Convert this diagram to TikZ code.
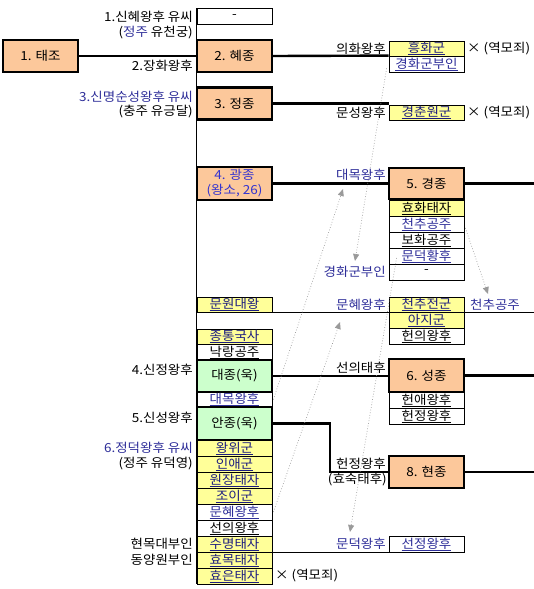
\documentclass[tikz,border=0pt]{standalone}
\usepackage{fontspec}
\setmainfont[FakeStretch=1.08]{Noto Sans CJK KR}
\usetikzlibrary{arrows.meta,calc}
\definecolor{orng}{HTML}{FCC89B}
\definecolor{yel}{HTML}{FFFF99}
\definecolor{grn}{HTML}{CCFFCC}
\definecolor{navyt}{HTML}{1C1C80}
\definecolor{bluet}{HTML}{2E2E99}
\definecolor{kblue}{HTML}{3434D0}
\definecolor{arrg}{HTML}{9A9A9A}
\newcommand{\fsz}{\fontsize{12.5pt}{15pt}\selectfont}
\newcommand{\uln}[1]{\leavevmode\setbox0\hbox{#1}\rlap{\rule[-2.2pt]{\wd0}{0.6pt}}\box0}
\begin{document}
\begin{tikzpicture}[x=1pt,y=-1pt,
  every node/.style={font=\fsz, inner sep=0pt},
  cell/.style={draw, line width=0.8pt, fill=white, minimum width=75pt, minimum height=16pt},
  ycell/.style={cell, fill=yel, text=navyt},
  king/.style={draw, line width=2.4pt, fill=orng, minimum width=75pt, minimum height=32pt},
  gking/.style={king, fill=grn},
  rl/.style={anchor=east},
  ll/.style={anchor=west},
  kline/.style={line width=2.4pt},
  tline/.style={line width=0.9pt},
  vline/.style={line width=1.3pt},
  hint/.style={arrg, dotted, line width=0.7pt, -{Triangle[length=7pt,width=6pt]}},
]
\useasboundingbox (0,0) rectangle (534,589);
\coordinate (edge) at (534,0);

% ---------- main column ----------
\node[cell] (dash) at (234.5,16.5) {-};
\node[king] (hyejong) at (234.5,56) {2. 혜종};
\node[king] (jeongjong) at (234.5,103.5) {3. 정종};
\node[king, text=kblue, align=center, minimum height=33pt] (gwang) at (234.5,183.5) {4. 광종\\(왕소, 26)};
\node[ycell, minimum height=15pt] (munwon) at (234.5,304.5) {\uln{문원대왕}};
\node[ycell, minimum height=15pt] (jongtong) at (234.5,336.5) {\uln{종통국사}};
\node[cell] (nakrang) at (234.5,352) {\uln{낙랑공주}};
\node[gking] (daejong) at (234.5,376) {대종(욱)};
\node[cell, minimum height=15pt, text=bluet] (daemok) at (234.5,399.5) {\uln{대목왕후}};
\node[gking, minimum height=33pt] (anjong) at (234.5,423.5) {안종(욱)};
\node[ycell] (wangwi) at (234.5,448) {\uln{왕위군}};
\node[ycell] (inae) at (234.5,464) {\uln{인애군}};
\node[ycell] (wonjang) at (234.5,480) {\uln{원장태자}};
\node[ycell] (joi) at (234.5,496) {\uln{조이군}};
\node[cell, text=bluet] (munhye) at (234.5,512) {\uln{문혜왕후}};
\node[cell] (seonui) at (234.5,528) {\uln{선의왕후}};
\node[ycell] (suyeong) at (234.5,544) {\uln{수명태자}};
\node[ycell] (hyomok) at (234.5,560) {\uln{효목태자}};
\node[ycell] (hyoeun) at (234.5,576) {\uln{효은태자}};

% ---------- founder ----------
\node[king] (taejo) at (40.5,56) {1. 태조};

% ---------- second column ----------
\node[ycell, minimum height=15pt] (heunghwa) at (426.5,48.5) {\uln{흥화군}};
\node[cell, text=bluet] (gyeonghwa) at (426.5,64) {\uln{경화군부인}};
\node[ycell, minimum height=15pt] (gyeongchun) at (426.5,112.5) {\uln{경춘원군}};
\node[king, minimum height=31pt] (gyeongjong) at (426.5,183.5) {5. 경종};
\node[ycell, text=black] (hyohwa) at (426.5,208) {\uln{효화태자}};
\node[cell, text=bluet] (cheonchu) at (426.5,224) {\uln{천추공주}};
\node[cell] (bohwa) at (426.5,240) {\uln{보화공주}};
\node[cell, text=bluet] (mundeok) at (426.5,256) {\uln{문덕황후}};
\node[cell] (dash2) at (426.5,272) {-};
\node[ycell, minimum height=15pt] (cheonchujeon) at (426.5,304.5) {\uln{천추전군}};
\node[ycell] (aji) at (426.5,320) {\uln{아지군}};
\node[cell] (heonui) at (426.5,336) {\uln{헌의왕후}};
\node[king, minimum height=33pt] (seongjong) at (426.5,375.5) {6. 성종};
\node[cell] (heonae) at (426.5,400) {\uln{헌애왕후}};
\node[cell] (heonjeong) at (426.5,416) {\uln{헌정왕후}};
\node[king] (hyeonjong) at (426.5,472) {8. 현종};
\node[cell, text=bluet] (seonjeong) at (426.5,544) {\uln{선정왕후}};

% ---------- left labels ----------
\node[rl] (l1) at (193,16.5) {1.신혜왕후 유씨};
\node[rl] (l1b) at (193,33) {(\textcolor{bluet}{정주} 유천궁)};
\node[rl] (l2) at (193,66) {2.장화왕후};
\node[rl, text=bluet] (l3) at (193,97) {3.신명순성왕후 유씨};
\node[rl] (l3b) at (193,112) {(충주 유긍달)};
\node[rl] (l4) at (193,370) {4.신정왕후};
\node[rl] (l5) at (193,418) {5.신성왕후};
\node[rl, text=bluet] (l6) at (193,448) {6.정덕왕후 유씨};
\node[rl] (l6b) at (193,464) {(정주 유덕영)};
\node[rl] (l7) at (193,544) {현목대부인};
\node[rl] (l8) at (193,560) {동양원부인};

% ---------- right-side labels ----------
\node[rl] (uihwa) at (386,48.5) {의화왕후};
\node[ll] (x1) at (467,48.5) {× (역모죄)};
\node[rl] (munseong) at (386,113) {문성왕후};
\node[ll] (x2) at (467,113) {× (역모죄)};
\node[rl, text=bluet] (ldaemok) at (386,175) {대목왕후};
\node[rl, text=bluet] (lgyeonghwa) at (386,272) {경화군부인};
\node[rl, text=bluet] (lmunhye) at (386,304.5) {문혜왕후};
\node[ll, text=bluet] (lcheonchu) at (470,304.5) {천추공주};
\node[rl] (lseonui) at (386,368) {선의태후};
\node[rl] (lheonjeong) at (386,464) {헌정왕후};
\node[rl] (lhyosuk) at (387,480) {(효숙태후)};
\node[rl, text=bluet] (lmundeok) at (386,544) {문덕왕후};
\node[ll] (x3) at (275,576) {× (역모죄)};

% ---------- connectors ----------
\draw[vline] (dash.north west) -- (hyoeun.south west);
\draw[kline] (taejo.east) -- (hyejong.west);
\draw[kline] (hyejong.east) -- (gyeonghwa.north west);
\draw[kline] (jeongjong.east) -- (jeongjong.east -| gyeongchun.west);
\draw[kline] (gwang.east) -- (gyeongjong.west);
\draw[kline] (gyeongjong.east) -- (gyeongjong.east -| edge);
\draw[tline] (munwon.south east) -- (munwon.south east -| edge);
\draw[kline] (daejong.east) -- (daejong.east -| seongjong.west);
\draw[kline] (seongjong.east) -- (seongjong.east -| edge);
\coordinate (bend) at (330,472);
\draw[kline] (anjong.east) -| (bend) -- (hyeonjong.west);
\draw[kline] (hyeonjong.east) -- (hyeonjong.east -| edge);
\draw[tline] (suyeong.south east) -- (seonjeong.south west);

% ---------- dotted cross references ----------
\coordinate (tA) at (355,261);
\coordinate (tB) at (343,189);
\coordinate (tC) at (340,322);
\coordinate (tD) at (350,532);
\coordinate (tE) at (488,294);
\draw[hint] ($(gyeonghwa.south west)+(-2,-4)$) -- (tA);
\draw[hint] ($(daemok.east)+(1,0)$) -- (tB);
\draw[hint] ($(munhye.east)+(1,0)$) -- (tC);
\draw[hint] ($(mundeok.west)+(8,2)$) -- (tD);
\draw[hint] ($(cheonchu.east)+(1,4)$) -- (tE);
\end{tikzpicture}
\end{document}
